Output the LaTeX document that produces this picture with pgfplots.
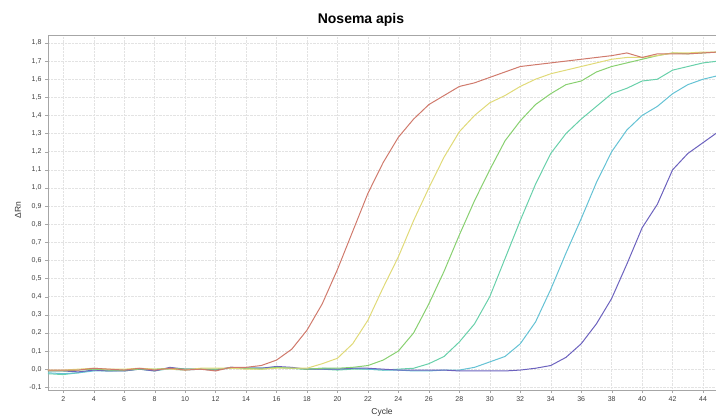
\documentclass[border=0pt]{standalone}
\usepackage{fontspec}
\setmainfont{Liberation Sans}
\usepackage{pgfplots}
\usepackage{pgfplotstable}
\pgfplotsset{compat=1.18}

\definecolor{cred}{RGB}{208,122,108}
\definecolor{cyel}{RGB}{224,218,120}
\definecolor{cgrn}{RGB}{136,208,112}
\definecolor{cteal}{RGB}{104,208,170}
\definecolor{ccyan}{RGB}{100,194,212}
\definecolor{cblue}{RGB}{108,98,190}

% cycle, six dilutions of the standard
\pgfplotstableread{
c  r      ye     gr     te     cy     bl
1  -0.005 -0.005 -0.010 -0.025 -0.020 -0.010
2  -0.005 -0.005 -0.010 -0.030 -0.025 -0.010
3  -0.005  0.000 -0.005 -0.020 -0.020 -0.015
4   0.005  0.005  0.000 -0.005 -0.010 -0.005
5   0.000  0.000 -0.005 -0.010 -0.010 -0.010
6  -0.005  0.000 -0.005 -0.010 -0.005 -0.010
7   0.005  0.005  0.000  0.000  0.000  0.000
8  -0.005  0.000  0.000 -0.010 -0.005 -0.010
9   0.005  0.000  0.005  0.005  0.000  0.010
10 -0.005 -0.005  0.000  0.000 -0.005  0.000
11  0.000  0.005  0.000  0.000  0.000  0.000
12 -0.010  0.005  0.000 -0.005  0.000 -0.005
13  0.010  0.005  0.005  0.010  0.005  0.010
14  0.010  0.000  0.005  0.005  0.005  0.005
15  0.020  0.000  0.000  0.005  0.005  0.005
16  0.050  0.005  0.010  0.010  0.010  0.015
17  0.110  0.005  0.005  0.005  0.005  0.010
18  0.215  0.005  0.000  0.000  0.000  0.000
19  0.360  0.030  0.005  0.000  0.005  0.000
20  0.550  0.060  0.005 -0.005  0.000  0.000
21  0.760  0.140  0.010  0.000  0.005  0.005
22  0.970  0.270  0.020  0.000  0.000  0.005
23  1.140  0.450  0.050 -0.005 -0.005  0.000
24  1.280  0.620  0.100  0.000 -0.005 -0.005
25  1.380  0.820  0.200  0.005 -0.010 -0.005
26  1.460  1.000  0.360  0.030 -0.010 -0.005
27  1.510  1.170  0.540  0.070 -0.005 -0.005
28  1.560  1.310  0.740  0.150 -0.005 -0.010
29  1.580  1.400  0.930  0.250  0.010 -0.010
30  1.610  1.470  1.100  0.400  0.040 -0.010
31  1.640  1.510  1.260  0.610  0.070 -0.010
32  1.670  1.560  1.370  0.820  0.140 -0.005
33  1.680  1.600  1.460  1.020  0.260  0.005
34  1.690  1.630  1.520  1.190  0.440  0.020
35  1.700  1.650  1.570  1.300  0.640  0.065
36  1.710  1.670  1.590  1.380  0.830  0.140
37  1.720  1.690  1.640  1.450  1.030  0.250
38  1.730  1.710  1.670  1.520  1.200  0.390
39  1.745  1.720  1.690  1.550  1.320  0.580
40  1.720  1.720  1.710  1.590  1.400  0.780
41  1.740  1.730  1.730  1.600  1.450  0.910
42  1.740  1.745  1.745  1.650  1.520  1.100
43  1.740  1.745  1.740  1.670  1.570  1.190
44  1.745  1.750  1.745  1.690  1.600  1.250
45  1.750  1.750  1.750  1.700  1.620  1.310
}\qpcr

\begin{document}
\begin{tikzpicture}[x=1pt,y=1pt]
\useasboundingbox (0,0) rectangle (716,417);
\begin{axis}[
  at={(48pt,27pt)}, anchor=south west,
  scale only axis, width=668pt, height=355pt,
  xmin=1, xmax=44.85, ymin=-0.115, ymax=1.844,
  xtick={2,4,...,44},
  ytick={-0.1,0.0,0.1,0.2,0.3,0.4,0.5,0.6,0.7,0.8,0.9,1.0,1.1,1.2,1.3,1.4,1.5,1.6,1.7,1.8},
  tick pos=left, tick align=outside,
  major tick length=3pt,
  tick style={gray!70},
  axis line style={gray!70},
  grid=major,
  grid style={densely dotted, gray!22},
  tick label style={font=\fontsize{7}{8}\selectfont, text=black!75},
  /pgf/number format/assume math mode=true,
  y tick label style={/pgf/number format/.cd, fixed, fixed zerofill, precision=1, use comma},
  every axis plot/.append style={line width=1pt, mark=none},
]
\addplot[cteal] table[x=c, y=te] {\qpcr};
\addplot[ccyan] table[x=c, y=cy] {\qpcr};
\addplot[cblue] table[x=c, y=bl] {\qpcr};
\addplot[cgrn] table[x=c, y=gr] {\qpcr};
\addplot[cyel] table[x=c, y=ye] {\qpcr};
\addplot[cred] table[x=c, y=r] {\qpcr};
\end{axis}
\node[font=\fontsize{14}{16}\selectfont\bfseries] at (361,397) {Nosema apis};
\node[font=\fontsize{8.5}{10}\selectfont, text=black!80] at (382,5) {Cycle};
\node[font=\fontsize{8.5}{10}\selectfont, text=black!80, rotate=90] at (18,207) {ΔRn};
\end{tikzpicture}
\end{document}
